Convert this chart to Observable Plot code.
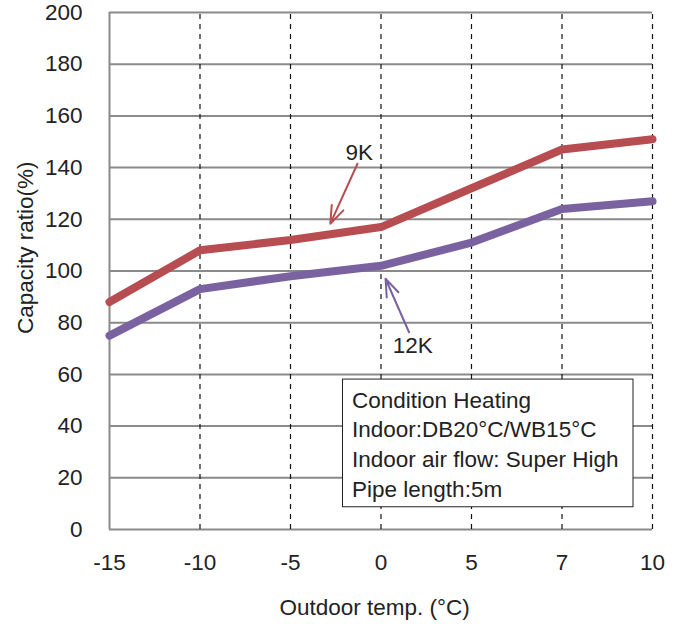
<!DOCTYPE html>
<html><head><meta charset="utf-8">
<script src="https://cdn.jsdelivr.net/npm/d3@7"></script>
<script src="https://cdn.jsdelivr.net/npm/@observablehq/plot@0.6"></script>
<style>body{margin:0;background:#fff}</style>
</head><body><div id="chart"></div>
<script>
// ---- data ----
const temps = ["-15", "-10", "-5", "0", "5", "7", "10"];
const cap9K = [88, 108, 112, 117, 132, 147, 151];
const cap12K = [75, 93, 98, 102, 111, 124, 127];
const yTicks = [0, 20, 40, 60, 80, 100, 120, 140, 160, 180, 200];
const seriesNames = ["9K", "12K"];
const seriesColors = ["#b84d51", "#7a62a0"];
const conditionLines = ["Condition Heating", "Indoor:DB20°C/WB15°C", "Indoor air flow: Super High", "Pipe length:5m"];
const xTitle = "Outdoor temp. (°C)";
const yTitle = "Capacity ratio(%)";

// annotation placement (data units: x = category index, y = %)
const arrows = [
  {name: "9K", x1: 2.74, y1: 141.5, x2: 2.44, y2: 118.3, lx: 2.76, ly: 145.8, color: seriesColors[0]},
  {name: "12K", x1: 3.31, y1: 76.3, x2: 3.05, y2: 97.0, lx: 3.35, ly: 71.2, color: seriesColors[1]}
];
const box = {x1: 2.58, x2: 5.79, y1: 8.6, y2: 58.0, tx: 2.68, ty: 33.6};
const titles = [
  {text: xTitle, x: 2.93, y: -30.2, rotate: 0},
  {text: yTitle, x: -0.93, y: 109, rotate: -90}
];

const rows = [];
temps.forEach((t, i) => {
  rows.push({i, t, v: cap9K[i], s: seriesNames[0]});
  rows.push({i, t, v: cap12K[i], s: seriesNames[1]});
});
const idx = temps.map((t, i) => i);

const font = "'Liberation Sans', Arial, sans-serif";
const fs = 22.5;
const chart = Plot.plot({
  width: 679, height: 624,
  marginLeft: 109, marginRight: 27, marginTop: 12, marginBottom: 95,
  style: {fontFamily: font, fontSize: fs + "px", color: "#222", background: "#fff"},
  x: {domain: [0, temps.length - 1], ticks: idx, tickFormat: i => temps[i], tickSize: 0, tickPadding: 25, label: null},
  y: {domain: [0, 200], ticks: yTicks, tickSize: 0, tickPadding: 27, label: null},
  marks: [
    Plot.ruleY(yTicks, {stroke: "#8a8a8a", strokeWidth: 2}),
    Plot.ruleX(idx.slice(1), {y1: 0, y2: 200, stroke: "#111", strokeWidth: 1.2, strokeDasharray: "5,5"}),
    Plot.ruleX([0], {y1: 0, y2: 200, stroke: "#8a8a8a", strokeWidth: 2}),
    Plot.rect([box], {x1: "x1", x2: "x2", y1: "y1", y2: "y2", fill: "#fff", stroke: "#222", strokeWidth: 1}),
    Plot.text([conditionLines.join("\n")], {x: () => box.tx, y: () => box.ty, textAnchor: "start", lineAnchor: "middle",
      lineHeight: 1.32, fontSize: fs, fill: "#222"}),
    Plot.line(rows, {x: "i", y: "v", z: "s", stroke: "s", strokeWidth: 8, strokeLinecap: "round", strokeLinejoin: "round"}),
    Plot.arrow(arrows, {x1: "x1", y1: "y1", x2: "x2", y2: "y2", stroke: "color", strokeWidth: 2, headLength: 14, headAngle: 40, inset: 0}),
    Plot.text(arrows, {x: "lx", y: "ly", text: "name", fontSize: fs, fill: "#222"}),
    Plot.text(titles, {x: "x", y: "y", text: "text", rotate: "rotate", fontSize: fs, fill: "#222", clip: false})
  ],
  color: {domain: seriesNames, range: seriesColors}
});
document.getElementById("chart").appendChild(chart);
</script>
</body></html>
